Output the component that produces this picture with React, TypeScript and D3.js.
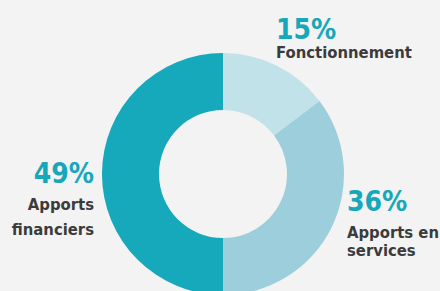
import { useEffect, useRef } from 'react';
import * as d3 from 'd3';

// slice order: clockwise from 12 o'clock
const categories = ['Fonctionnement', 'Apports en services', 'Apports financiers'];
const shares = [14.7, 35.3, 50];
const pctLabels = ['15%', '36%', '49%'];
const labelLines = [['Fonctionnement'], ['Apports en', 'services'], ['Apports', 'financiers']];
const colors = ['#c2e2e9', '#9ccedb', '#16a8bb'];

export default function App() {
  const svgRef = useRef<SVGSVGElement>(null);

  useEffect(() => {
    const width = 440;
    const height = 291;
    const cx = 223;
    const cy = 174;
    const outer = 121;
    const inner = 64;

    const svg = d3.select(svgRef.current);
    svg.selectAll('*').remove();

    svg.append('rect').attr('width', width).attr('height', height).attr('fill', '#f3f3f3');

    const pie = d3
      .pie<number>()
      .sort(null)
      .value(d => d);
    const arc = d3.arc<d3.PieArcDatum<number>>().innerRadius(inner).outerRadius(outer);

    // Slices
    svg
      .append('g')
      .attr('transform', `translate(${cx},${cy})`)
      .selectAll('path')
      .data(pie(shares))
      .enter()
      .append('path')
      .attr('d', arc)
      .attr('fill', (_, i) => colors[i]);

    // label placement: x, pct baseline, anchor, first line gap, line step
    const spots: { x: number; y: number; anchor: string; gap: number; step: number }[] = [
      { x: 276, y: 39, anchor: 'start', gap: 19, step: 19 },
      { x: 347, y: 211, anchor: 'start', gap: 27, step: 18 },
      { x: 94, y: 183, anchor: 'end', gap: 27, step: 25 },
    ];
    const font = "'DejaVu Sans Condensed', 'DejaVu Sans', sans-serif";

    categories.forEach((c, i) => {
      const { x, y, anchor, gap, step } = spots[i];
      const g = svg.append('g').attr('class', 'label').attr('data-cat', c);
      g.append('text')
        .attr('x', x)
        .attr('y', y)
        .attr('text-anchor', anchor)
        .attr('fill', '#17a7ba')
        .style('font-family', font)
        .style('font-weight', 'bold')
        .style('font-size', '28px')
        .text(pctLabels[i]);
      labelLines[i].forEach((line, j) => {
        g.append('text')
          .attr('x', x)
          .attr('y', y + gap + j * step)
          .attr('text-anchor', anchor)
          .attr('fill', '#3b3b3b')
          .style('font-family', font)
          .style('font-weight', 'bold')
          .style('font-size', '16.5px')
          .text(line);
      });
    });
  }, []);

  return (
    <svg
      ref={svgRef}
      width={440}
      height={291}
      style={{ position: 'absolute', left: 0, top: 0, display: 'block' }}
    ></svg>
  );
}
